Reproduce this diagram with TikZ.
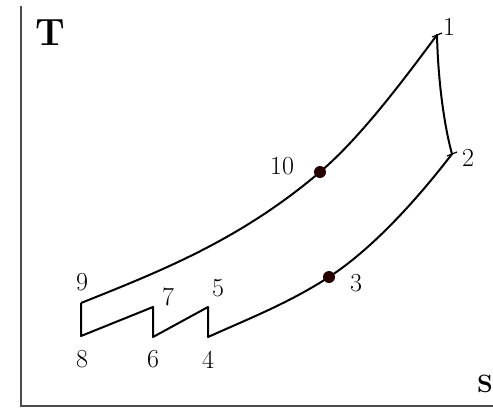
\documentclass[tikz,border=0pt]{standalone}
\begin{document}
\begin{tikzpicture}[x=1pt,y=-1pt,
  curve/.style={line width=2pt,line join=round},
  axis/.style={line width=2pt,draw=black!70},
  num/.style={font=\fontsize{26}{28}\selectfont,inner sep=0pt},
  dot/.style={circle,fill=black!85!red,inner sep=0pt,minimum size=12pt}]
\clip (0,0) rectangle (493,408);
\useasboundingbox (0,0) rectangle (493,408);
% axes
\coordinate (o) at (21,406);
\coordinate (ytop) at (21,6);
\coordinate (xend) at (495,406);
\draw[axis] (ytop) -- (o) -- (xend);
\node[font=\fontsize{38}{40}\selectfont\bfseries,inner sep=0pt] (T) at (50,33) {T};
\node[font=\fontsize{25}{27}\selectfont\bfseries,inner sep=0pt] (S) at (485,384) {S};
% state points
\coordinate (p1) at (437,35);
\coordinate (p2) at (452,154);
\coordinate (p3) at (329,277);
\coordinate (p10) at (320,172);
\coordinate (p4) at (208,337);
\coordinate (p5) at (208,307);
\coordinate (p6) at (153,337);
\coordinate (p7) at (153,307);
\coordinate (p8) at (81,336);
\coordinate (p9) at (81,303);
% cycle
\draw[curve] (p9) .. controls (161,271) and (240,240) .. (p10)
             .. controls (360,138) and (402,82) .. (p1)
             .. controls (438,80) and (444,125) .. (p2)
             .. controls (412,206) and (369,251) .. (p3)
             .. controls (289,303) and (248,319) .. (p4)
             -- (p5) -- (p6) -- (p7) -- (p8) -- (p9);
% small ticks
\draw[line width=1.2pt] (432,37) -- (442,33);
\draw[line width=1.2pt] (447,156) -- (457,152);
% dots
\node[dot] (d10) at (p10) {};
\node[dot] (d3) at (p3) {};
% labels
\node[num] (l1) at (449,27) {1};
\node[num] (l2) at (468,158) {2};
\node[num] (l10) at (282,166) {10};
\node[num] (l3) at (356,283) {3};
\node[num] (l9) at (82,282) {9};
\node[num] (l8) at (82,359) {8};
\node[num] (l7) at (168,297) {7};
\node[num] (l6) at (153,359) {6};
\node[num] (l5) at (218,288) {5};
\node[num] (l4) at (208,360) {4};
\end{tikzpicture}
\end{document}
